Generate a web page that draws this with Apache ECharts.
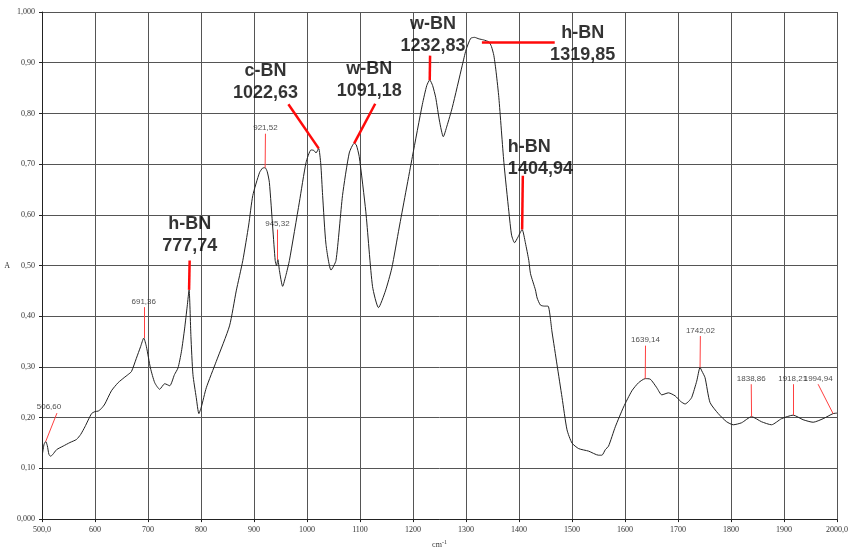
<!DOCTYPE html>
<html><head><meta charset="utf-8">
<script src="https://cdn.jsdelivr.net/npm/echarts@6/dist/echarts.min.js"></script>
<style>html,body{margin:0;padding:0;background:#fff}#c{width:851px;height:554px}</style>
</head><body><div id="c"></div>
<script>
// Spectrum data (wavenumber, cm-1) and absorbance A
const wavenumbers = [501,504,507,510,513,516,520,527.6,540,552.7,565,573,581,593.5,600,606,612,618.6,631,643.6,655,662.4,668.8,678,686,692,697,704.6,712.7,722,731.5,741,750,756.6,763,769,774,777.5,781,784.8,791,796,800.6,810,828.8,853.8,866.5,878.9,890,897.7,910.3,916,921,925,929,935.4,940,942.5,945,948,954,960,966.8,985.6,998.2,1007.6,1013,1017,1022,1026,1029.5,1035.8,1045.3,1054.7,1067,1079.7,1089,1093,1098.5,1111,1123.6,1134.9,1148,1160,1173.8,1198.9,1217.7,1226,1231.6,1237,1242.9,1250,1257.2,1264,1274.2,1293,1300,1308.8,1316,1324.4,1333,1343.2,1348,1352.6,1357,1362,1371.5,1380.9,1386,1391.6,1398,1405.9,1412,1418.5,1421.7,1431,1434.2,1440.5,1448,1454.8,1462.3,1471.8,1481.2,1490.6,1500,1512.6,1531.4,1550,1556.5,1562.9,1569,1581.7,1597.3,1613,1625.6,1638.2,1647.6,1660,1669.4,1682,1694.6,1705,1713.4,1720,1725.9,1735.3,1741.6,1745,1751,1760.4,1776,1791.7,1804.3,1820,1838.8,1857.6,1876.4,1895.3,1917.3,1936,1955,1973.8,1992.6,2000];
const absorbance = [0.130,0.148,0.153,0.145,0.128,0.124,0.127,0.137,0.144,0.151,0.157,0.167,0.182,0.208,0.212,0.213,0.218,0.227,0.253,0.269,0.279,0.285,0.291,0.317,0.340,0.357,0.340,0.298,0.269,0.256,0.267,0.263,0.285,0.298,0.330,0.375,0.420,0.452,0.360,0.285,0.240,0.208,0.221,0.259,0.311,0.381,0.450,0.510,0.580,0.638,0.683,0.692,0.693,0.685,0.664,0.574,0.510,0.500,0.512,0.490,0.459,0.480,0.510,0.625,0.703,0.728,0.727,0.722,0.731,0.700,0.638,0.542,0.491,0.510,0.638,0.722,0.741,0.738,0.715,0.606,0.459,0.417,0.450,0.495,0.574,0.715,0.818,0.855,0.866,0.855,0.831,0.785,0.754,0.775,0.812,0.895,0.925,0.948,0.950,0.947,0.945,0.941,0.932,0.914,0.880,0.831,0.703,0.606,0.560,0.545,0.556,0.571,0.545,0.510,0.484,0.452,0.436,0.422,0.420,0.420,0.369,0.304,0.240,0.176,0.150,0.139,0.134,0.126,0.126,0.137,0.144,0.182,0.221,0.253,0.269,0.277,0.276,0.259,0.245,0.249,0.243,0.232,0.227,0.232,0.240,0.272,0.299,0.292,0.279,0.230,0.208,0.192,0.186,0.190,0.202,0.192,0.186,0.198,0.205,0.196,0.191,0.198,0.208,0.209];

// Peak annotations
const peakNames  = ['', '', 'h-BN', '', '', 'c-BN', 'w-BN', 'w-BN', 'h-BN', 'h-BN', '', '', '', '', ''];
const peakValues = ['506,60','691,36','777,74','921,52','945,32','1022,63','1091,18','1232,83','1319,85','1404,94','1639,14','1742,02','1838,86','1918,21','1994,94'];
const peakPoints = [[507,0.153],[692,0.357],[777.5,0.452],[921,0.693],[944.8,0.511],[1022,0.731],[1089,0.741],[1231.6,0.866],[1330,0.941],[1405.9,0.571],[1638.2,0.277],[1741.6,0.299],[1838.8,0.202],[1917.3,0.205],[1992.6,0.208]];

// Annotation layout (data coordinates of leader-line tips and label anchors)
const leaderTips = [[528.2,0.209],[692,0.418],[778.6,0.510],[921.6,0.760],[944.2,0.571],[964.9,0.818],[1128.7,0.819],[1232.2,0.914],[1467.4,0.941],[1407.2,0.677],[1638.7,0.342],[1742.2,0.361],[1838.2,0.266],[1917.3,0.266],[1964.3,0.266]];
const labelAnchors = [[513.2,0.212],[692,0.420],[778.6,0.517],[921.6,0.762],[944.2,0.573],[921.6,0.818],[1117.3,0.823],[1237.8,0.912],[1520.1,0.893],[1379,0.668],[1638.7,0.344],[1742.2,0.363],[1838.2,0.268],[1916.3,0.268],[1964.5,0.268]];
const labelAligns = ['center','center','center','center','center','center','center','center','center','left','center','center','center','center','center'];

const chart = echarts.init(document.getElementById('c'), null, {renderer:'canvas'});
const series = wavenumbers.map((x,i)=>[x, absorbance[i]]);

const lineData = peakPoints.map((p,i)=>{
  const big = peakNames[i] !== '';
  return [
    {coord:p, lineStyle:{color: big ? '#ff0a0a' : '#ff4040', width: big ? 2.5 : 1, type:'solid'}},
    {coord:leaderTips[i]}
  ];
});

const labelData = peakValues.map((v,i)=>{
  const big = peakNames[i] !== '';
  return {
    value: labelAnchors[i],
    label: {
      show:true,
      position:[0,0],
      formatter: big ? peakNames[i] + '\n' + v : v,
      align: labelAligns[i],
      verticalAlign:'bottom',
      fontFamily:'Liberation Sans',
      fontSize: big ? 18 : 8,
      fontWeight: big ? 'bold' : 'normal',
      lineHeight: big ? 22 : 9,
      color: big ? '#000' : '#222'
    }
  };
});

function yFmt(v){
  if (Math.abs(v) < 1e-9) return '0,000';
  if (Math.abs(v-1) < 1e-9) return '1,000';
  return v.toFixed(2).replace('.', ',');
}
function xFmt(v){
  if (v === 500) return '500,0';
  if (v === 2000) return '2000,0';
  return String(Math.round(v));
}

chart.setOption({
  animation:false,
  backgroundColor:'#fff',
  grid:{left:42, right:12, top:12, bottom:23},
  xAxis:{
    type:'value', min:500, max:2000, interval:100,
    name:'{a|cm}{b|-1}', nameLocation:'middle', nameGap:18,
    nameTextStyle:{rich:{a:{fontFamily:'Liberation Serif', fontSize:8, color:'#333'}, b:{fontFamily:'Liberation Serif', fontSize:6, color:'#333', verticalAlign:'top', padding:[0,0,6,0]}}},
    axisLine:{show:true, lineStyle:{color:'#222', width:1}},
    axisTick:{show:true, length:3, lineStyle:{color:'#222'}},
    axisLabel:{formatter:xFmt, fontFamily:'Liberation Serif', fontSize:8, color:'#333', margin:7},
    splitLine:{show:true, lineStyle:{color:'#555', width:1}}
  },
  yAxis:{
    type:'value', min:0, max:1, interval:0.1,
    name:'A', nameLocation:'middle', nameGap:32, nameRotate:0,
    nameTextStyle:{fontFamily:'Liberation Serif', fontSize:8, color:'#333'},
    axisLine:{show:true, lineStyle:{color:'#222', width:1}},
    axisTick:{show:true, length:3, lineStyle:{color:'#222'}},
    axisLabel:{formatter:yFmt, fontFamily:'Liberation Serif', fontSize:8, color:'#333', margin:7},
    splitLine:{show:true, lineStyle:{color:'#555', width:1}}
  },
  series:[
    {
      type:'line', data:series, showSymbol:false, symbol:'none', smooth:0.2,
      lineStyle:{color:'#222', width:1},
      silent:true,
      markLine:{silent:true, symbol:['none','none'], label:{show:false}, data:lineData, animation:false}
    },
    {
      type:'scatter', data:labelData, symbolSize:0, silent:true, z:5
    }
  ]
});
</script>
</body></html>
